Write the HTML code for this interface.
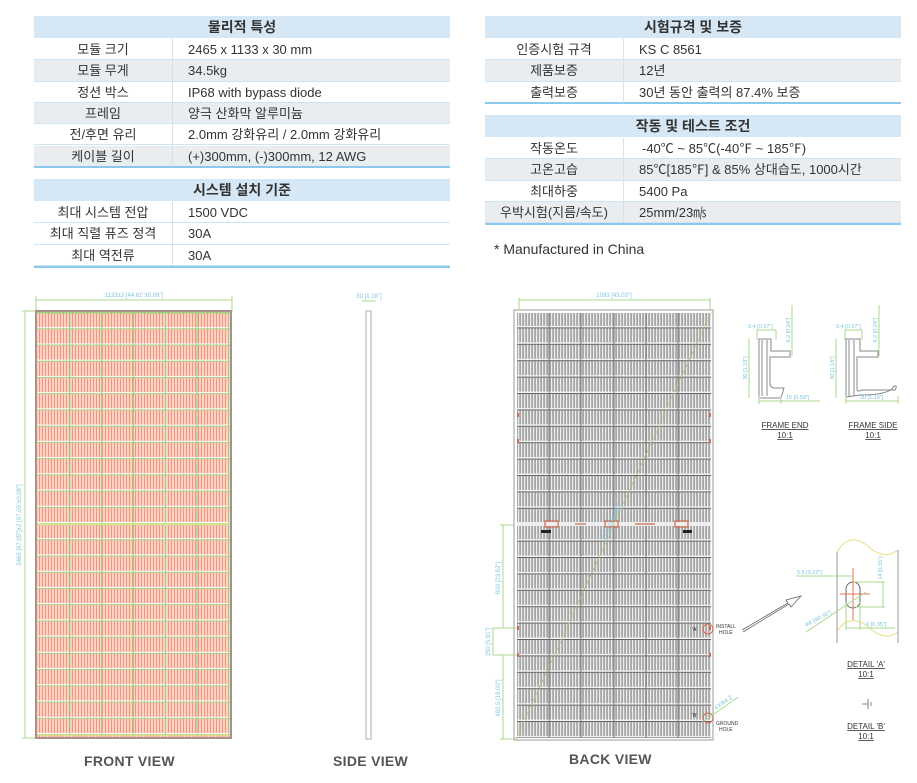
<!DOCTYPE html>
<html><head><meta charset="utf-8">
<style>
*{margin:0;padding:0;box-sizing:border-box}
body{width:917px;height:783px;background:#fff;position:relative;overflow:hidden;font-family:"Liberation Sans","Noto Sans CJK KR",sans-serif;color:#333}
.t{position:absolute;font-size:13px}
.r{position:absolute;left:0;right:0;height:21.3px;line-height:21.3px;border-bottom:1px solid #cfe4f2}
.r .a{position:absolute;left:0;text-align:center;top:0}
.r .b{position:absolute;top:0}
.h{position:absolute;left:0;right:0;height:22px;line-height:22px;background:#d6e8f5;text-align:center;font-size:14px;font-weight:bold;color:#333}
.g{background:#e9edf0}
.bl{position:absolute;left:0;right:0;height:2px;background:#8cc8ec}
svg{position:absolute;left:0;top:0}
.lbl{position:absolute;font-size:14px;font-weight:bold;color:#555;letter-spacing:0.3px}
</style></head><body>

<div class="t" style="left:34px;top:16px;width:416px;height:260px">
 <div class="h" style="top:0">물리적 특성</div>
 <div class="r" style="top:23px"><span class="a" style="width:138px">모듈 크기</span><span class="b" style="left:154px">2465 x 1133 x 30 mm</span></div>
 <div class="r g" style="top:44.3px"><span class="a" style="width:138px">모듈 무게</span><span class="b" style="left:154px">34.5kg</span></div>
 <div class="r" style="top:65.6px"><span class="a" style="width:138px">정션 박스</span><span class="b" style="left:154px">IP68 with bypass diode</span></div>
 <div class="r g" style="top:86.9px"><span class="a" style="width:138px">프레임</span><span class="b" style="left:154px">양극 산화막 알루미늄</span></div>
 <div class="r" style="top:108.2px"><span class="a" style="width:138px">전/후면 유리</span><span class="b" style="left:154px">2.0mm 강화유리 / 2.0mm 강화유리</span></div>
 <div class="r g" style="top:129.5px"><span class="a" style="width:138px">케이블 길이</span><span class="b" style="left:154px">(+)300mm, (-)300mm, 12 AWG</span></div>
 <div class="bl" style="top:150px"></div>
 <div style="position:absolute;left:138px;top:23px;width:1px;height:128px;background:#cfe4f2"></div>
 <div class="h" style="top:163px">시스템 설치 기준</div>
 <div class="r" style="top:186px"><span class="a" style="width:138px">최대 시스템 전압</span><span class="b" style="left:154px">1500 VDC</span></div>
 <div class="r" style="top:207.3px"><span class="a" style="width:138px">최대 직렬 퓨즈 정격</span><span class="b" style="left:154px">30A</span></div>
 <div class="r" style="top:228.6px"><span class="a" style="width:138px">최대 역전류</span><span class="b" style="left:154px">30A</span></div>
 <div class="bl" style="top:249.5px"></div>
 <div style="position:absolute;left:138px;top:186px;width:1px;height:64px;background:#cfe4f2"></div>
</div>

<div class="t" style="left:485px;top:16px;width:416px;height:260px">
 <div class="h" style="top:0">시험규격 및 보증</div>
 <div class="r" style="top:23px"><span class="a" style="width:138px">인증시험 규격</span><span class="b" style="left:154px">KS C 8561</span></div>
 <div class="r g" style="top:44.3px"><span class="a" style="width:138px">제품보증</span><span class="b" style="left:154px">12년</span></div>
 <div class="r" style="top:65.6px"><span class="a" style="width:138px">출력보증</span><span class="b" style="left:154px">30년 동안 출력의 87.4% 보증</span></div>
 <div class="bl" style="top:86px"></div>
 <div style="position:absolute;left:138px;top:23px;width:1px;height:64px;background:#cfe4f2"></div>
 <div class="h" style="top:99px">작동 및 테스트 조건</div>
 <div class="r" style="top:122px"><span class="a" style="width:138px">작동온도</span><span class="b" style="left:157px">-40℃ ~ 85℃(-40℉ ~ 185℉)</span></div>
 <div class="r g" style="top:143.3px"><span class="a" style="width:138px">고온고습</span><span class="b" style="left:154px">85℃[185℉] &amp; 85% 상대습도, 1000시간</span></div>
 <div class="r" style="top:164.6px"><span class="a" style="width:138px">최대하중</span><span class="b" style="left:154px">5400 Pa</span></div>
 <div class="r g" style="top:185.9px"><span class="a" style="width:138px">우박시험(지름/속도)</span><span class="b" style="left:154px">25mm/23㎧</span></div>
 <div class="bl" style="top:206.5px"></div>
 <div style="position:absolute;left:138px;top:122px;width:1px;height:85px;background:#cfe4f2"></div>
 <div style="position:absolute;left:9px;top:225px;font-size:14px;color:#333">* Manufactured in China</div>
</div>

<svg width="917" height="783" viewBox="0 0 917 783">
<defs>
 <pattern id="pk" width="3" height="16.23" patternUnits="userSpaceOnUse" x="38" y="313">
  <rect width="3" height="16.23" fill="#fad3c6"/>
  <rect x="1" width="0.7" height="16.23" fill="#f27a5c"/>
  <rect y="14.2" width="3" height="1.2" fill="#fff"/>
  <rect y="15.3" width="3" height="0.93" fill="#9bd47c"/>
 </pattern>
 <pattern id="gy" width="3" height="16.4" patternUnits="userSpaceOnUse" x="517" y="312">
  <rect width="3" height="16.4" fill="#a6a6a6"/>
  <rect x="1" width="1.2" height="16.4" fill="#ececec"/>
  <rect y="14" width="3" height="1.4" fill="#f4f4f4"/>
  <rect y="15.4" width="3" height="1" fill="#666"/>
 </pattern>
</defs>

<g>
 <line x1="36" y1="300" x2="232" y2="300" stroke="#a8d98c" stroke-width="1"/>
 <line x1="36" y1="296" x2="36" y2="312" stroke="#a8d98c"/><line x1="232" y1="296" x2="232" y2="312" stroke="#a8d98c"/>
 <text x="134" y="297" font-size="6" fill="#7cc6e0" text-anchor="middle" font-family="Liberation Sans">1133±2 [44.61"±0.08"]</text>
 <line x1="25" y1="311" x2="25" y2="738" stroke="#a8d98c"/>
 <line x1="22" y1="311" x2="35" y2="311" stroke="#a8d98c"/><line x1="22" y1="738" x2="35" y2="738" stroke="#a8d98c"/>
 <text transform="translate(21 525) rotate(-90)" font-size="6" fill="#7cc6e0" text-anchor="middle" font-family="Liberation Sans">2465 [97.05"]±2 [97.05"±0.08"]</text>
 <rect x="35" y="310" width="197" height="429" fill="#a8918a"/>
 <rect x="37" y="312" width="193" height="425" fill="url(#pk)"/>
 <g stroke="#9bd47c" stroke-width="1">
  <line x1="38" y1="313" x2="229" y2="313"/>
  <line x1="69.8" y1="313" x2="69.8" y2="736"/><line x1="101.6" y1="313" x2="101.6" y2="736"/>
  <line x1="133.5" y1="313" x2="133.5" y2="736"/><line x1="165.3" y1="313" x2="165.3" y2="736"/>
  <line x1="197.1" y1="313" x2="197.1" y2="736"/><line x1="228.5" y1="313" x2="228.5" y2="736"/>
  <line x1="38" y1="524" x2="229" y2="524" stroke="#c9e88a" stroke-width="2"/>
  <line x1="38" y1="735" x2="229" y2="735" stroke="#d8ec80"/>
 </g>
</g>

<g>
 <line x1="362" y1="301" x2="376" y2="301" stroke="#a8d98c"/>
 <text x="369" y="298" font-size="6" fill="#7cc6e0" text-anchor="middle" font-family="Liberation Sans">30 [1.18"]</text>
 <rect x="366" y="311" width="5" height="428" fill="#fff" stroke="#bbb" stroke-width="1.2"/>
</g>

<g>
 <line x1="519" y1="300" x2="710" y2="300" stroke="#a8d98c"/>
 <line x1="519" y1="298" x2="519" y2="412" stroke="#a8d98c"/><line x1="710" y1="298" x2="710" y2="412" stroke="#a8d98c"/>
 <text x="614" y="297" font-size="6" fill="#7cc6e0" text-anchor="middle" font-family="Liberation Sans">1093 [43.03"]</text>
 <rect x="514" y="310" width="199" height="430" fill="#fff" stroke="#bbb" stroke-width="1.5"/>
 <rect x="517" y="313" width="194" height="425" fill="url(#gy)"/>
 <g stroke="#777" stroke-width="1">
  <line x1="549" y1="313" x2="549" y2="738"/><line x1="581" y1="313" x2="581" y2="738"/>
  <line x1="614" y1="313" x2="614" y2="738"/><line x1="646" y1="313" x2="646" y2="738"/>
  <line x1="678" y1="313" x2="678" y2="738"/>
 </g>
 <rect x="517" y="522" width="194" height="4" fill="#eee"/>
 <g fill="none" stroke="#d06a50" stroke-width="1.2">
  <rect x="545" y="521" width="13" height="6"/><rect x="605" y="521" width="13" height="6"/><rect x="675" y="521" width="13" height="6"/>
  <line x1="575" y1="524" x2="586" y2="524"/><line x1="635" y1="524" x2="655" y2="524"/>
 </g>
 <rect x="541" y="530" width="10" height="3" fill="#222"/><rect x="683" y="530" width="9" height="3" fill="#222"/>
 <line x1="516" y1="739" x2="711" y2="312" stroke="#9ccc78" stroke-width="1.2" stroke-dasharray="2 1.5"/>
 <text transform="translate(605 540) rotate(-65)" font-size="6" fill="#7cc6e0" font-family="Liberation Sans">2714 [106.85"]</text>
 <g stroke="#a8d98c" fill="none">
  <line x1="503" y1="525" x2="503" y2="628"/><line x1="500" y1="525" x2="515" y2="525"/>
  <line x1="493" y1="628" x2="517" y2="628"/><line x1="493" y1="655" x2="517" y2="655"/>
  <line x1="493" y1="628" x2="493" y2="655"/>
  <line x1="503" y1="655" x2="503" y2="739"/><line x1="500" y1="739" x2="515" y2="739"/>
 </g>
 <text transform="translate(500 578) rotate(-90)" font-size="6" fill="#7cc6e0" text-anchor="middle" font-family="Liberation Sans">600 [23.62"]</text>
 <text transform="translate(490 642) rotate(-90)" font-size="6" fill="#7cc6e0" text-anchor="middle" font-family="Liberation Sans">150 [5.91"]</text>
 <text transform="translate(500 698) rotate(-90)" font-size="6" fill="#7cc6e0" text-anchor="middle" font-family="Liberation Sans">482.5 [19.00"]</text>
 <g fill="#d06a50"><rect x="517" y="626" width="2" height="4"/><rect x="709" y="626" width="2" height="4"/><rect x="517" y="653" width="2" height="4"/><rect x="709" y="653" width="2" height="4"/><rect x="517" y="413" width="2" height="4"/><rect x="709" y="413" width="2" height="4"/><rect x="517" y="439" width="2" height="4"/><rect x="709" y="439" width="2" height="4"/></g>
 <circle cx="708" cy="629" r="5" fill="none" stroke="#d06a50"/>
 <circle cx="708" cy="718" r="5" fill="none" stroke="#d06a50"/>
 <text x="692" y="631" font-size="5" fill="#222" font-family="Liberation Sans">'A'</text>
 <text x="692" y="717" font-size="5" fill="#222" font-family="Liberation Sans">'B'</text>
 <text x="716" y="628" font-size="5" fill="#333" font-family="Liberation Sans">INSTALL</text>
 <text x="719" y="634" font-size="5" fill="#333" font-family="Liberation Sans">HOLE</text>
 <text x="716" y="725" font-size="5" fill="#333" font-family="Liberation Sans">GROUND</text>
 <text x="719" y="731" font-size="5" fill="#333" font-family="Liberation Sans">HOLE</text>
 <line x1="703" y1="722" x2="738" y2="697" stroke="#a8d98c"/>
 <text transform="translate(716 710) rotate(-35)" font-size="6" fill="#7cc6e0" font-family="Liberation Sans">4XΦ4.2</text>
</g>

<g fill="none" stroke="#888" stroke-width="1">
 <path d="M759 339 H771 V351 H790 V357 H770 V383 Q770 388 775 388 H784 L781 398 H759 Z"/>
 <path d="M762 340 V396 M767 340 V396"/>
 <path d="M846 339 H860 V351 H878 V357 H857 V390 Q858 392 862 390 L895 390 Q898 385 894 386 L892 389 Q884 395 860 395 L846 397 Z"/>
 <path d="M849 340 V396 M854 340 V396"/>
</g>
<g stroke="#a8d98c" fill="none">
 <line x1="757" y1="330" x2="776" y2="330"/><line x1="757" y1="330" x2="757" y2="340"/><line x1="776" y1="330" x2="776" y2="340"/>
 <line x1="792" y1="305" x2="792" y2="356"/><line x1="749" y1="339" x2="749" y2="398"/>
 <line x1="759" y1="401" x2="820" y2="401"/><line x1="759" y1="396" x2="759" y2="404"/><line x1="781" y1="396" x2="781" y2="404"/>
 <line x1="845" y1="330" x2="862" y2="330"/><line x1="845" y1="330" x2="845" y2="340"/><line x1="862" y1="330" x2="862" y2="340"/>
 <line x1="879" y1="305" x2="879" y2="356"/><line x1="836" y1="339" x2="836" y2="398"/>
 <line x1="846" y1="401" x2="898" y2="401"/><line x1="846" y1="396" x2="846" y2="404"/><line x1="898" y1="396" x2="898" y2="404"/>
</g>
<g font-size="5.5" fill="#7cc6e0" font-family="Liberation Sans">
 <text x="748" y="328">9.4 [0.37"]</text>
 <text transform="translate(790 330) rotate(-90)" text-anchor="middle">6.2 [0.24"]</text>
 <text transform="translate(747 368) rotate(-90)" text-anchor="middle">30 [1.18"]</text>
 <text x="786" y="399">15 [0.59"]</text>
 <text x="836" y="328">9.4 [0.37"]</text>
 <text transform="translate(877 330) rotate(-90)" text-anchor="middle">6.2 [0.24"]</text>
 <text transform="translate(834 368) rotate(-90)" text-anchor="middle">30 [1.18"]</text>
 <text x="860" y="399">30 [1.18"]</text>
</g>
<g font-size="8" fill="#333" font-family="Liberation Sans" text-anchor="middle" text-decoration="underline">
 <text x="785" y="428">FRAME END</text><text x="785" y="438">10:1</text>
 <text x="873" y="428">FRAME SIDE</text><text x="873" y="438">10:1</text>
 <text x="866" y="667">DETAIL 'A'</text><text x="866" y="677">10:1</text>
 <text x="866" y="729">DETAIL 'B'</text><text x="866" y="739">10:1</text>
</g>

<g fill="none">
 <path d="M742 630 L788 603 L786 600 L801 596 L791 607 L789 604 L743 632" stroke="#666" stroke-width="0.8"/>
 <path d="M837 552 Q850 530 870 548 Q885 560 898 550" stroke="#e6e080"/>
 <path d="M837 631 Q850 612 870 628 Q885 642 898 632" stroke="#e6e080"/>
 <line x1="837" y1="552" x2="837" y2="643" stroke="#999"/>
 <line x1="898" y1="550" x2="898" y2="643" stroke="#999"/>
 <rect x="846" y="582" width="14" height="26" rx="7" stroke="#666"/>
 <line x1="853" y1="568" x2="853" y2="620" stroke="#f07050"/>
 <line x1="840" y1="594" x2="870" y2="594" stroke="#f07050"/>
 <g stroke="#a8d98c">
  <line x1="796" y1="576" x2="853" y2="576"/>
  <line x1="853" y1="582" x2="885" y2="582"/><line x1="853" y1="607" x2="885" y2="607"/><line x1="883" y1="582" x2="883" y2="607"/>
  <line x1="846" y1="602" x2="846" y2="630"/><line x1="860" y1="602" x2="860" y2="630"/><line x1="846" y1="628" x2="895" y2="628"/>
  <line x1="806" y1="632" x2="866" y2="592"/>
 </g>
</g>
<g font-size="5.5" fill="#7cc6e0" font-family="Liberation Sans">
 <text x="797" y="574">5.5 [0.22"]</text>
 <text transform="translate(882 568) rotate(-90)" text-anchor="middle">14 [0.55"]</text>
 <text x="866" y="626">9 [0.35"]</text>
 <text transform="translate(806 627) rotate(-28)">Φ9 [Φ0.35"]</text>
</g>
<g stroke="#666" stroke-width="0.8"><line x1="862" y1="704" x2="868" y2="704"/><line x1="868" y1="699" x2="868" y2="709"/><line x1="871" y1="702" x2="871" y2="706"/></g>
</svg>

<div class="lbl" style="left:84px;top:753px">FRONT VIEW</div>
<div class="lbl" style="left:333px;top:753px">SIDE VIEW</div>
<div class="lbl" style="left:569px;top:751px">BACK VIEW</div>
</body></html>
